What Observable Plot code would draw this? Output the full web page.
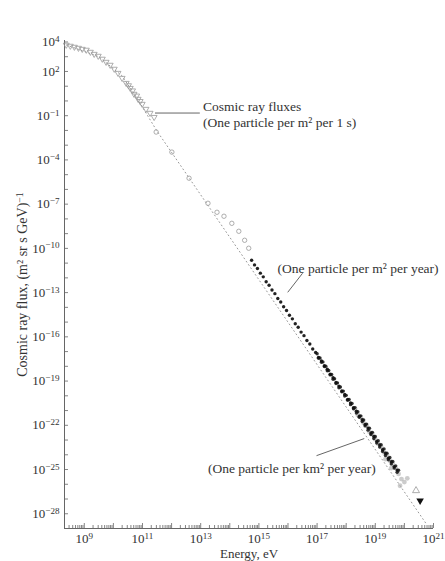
<!DOCTYPE html>
<html><head><meta charset="utf-8">
<script src="https://cdn.jsdelivr.net/npm/d3@7"></script>
<script src="https://cdn.jsdelivr.net/npm/@observablehq/plot@0.6"></script>
<style>body{margin:0;background:#fff}</style>
</head><body><div id="chart"></div>
<script>
// ---- data (log10 of energy in eV, log10 of flux) ----
const triLogE = [8.38, 8.52, 8.66, 8.80, 8.93, 9.07, 9.21, 9.34, 9.48, 9.62, 9.75, 9.89, 10.03, 10.16, 10.30, 10.44, 10.58, 10.71, 10.85, 10.99, 11.12, 11.26, 11.40, 10.52, 10.66, 10.80, 10.92];
const triLogF = [3.80, 3.73, 3.66, 3.59, 3.52, 3.46, 3.32, 3.18, 3.05, 2.85, 2.64, 2.44, 2.17, 1.89, 1.55, 1.21, 0.87, 0.47, 0.13, -0.21, -0.55, -0.82, -1.10, 1.05, 0.70, 0.35, -0.02];

const circLogE = [11.47, 12.01, 12.60, 13.25, 13.56, 13.80, 14.07, 14.31, 14.51, 14.65];
const circLogF = [-2.11, -3.47, -5.24, -6.94, -7.55, -7.82, -8.30, -8.84, -9.45, -9.99];

const darkLogE = [14.75, 14.85, 14.95, 15.05, 15.15, 15.25, 15.35, 15.45, 15.55, 15.65, 15.75, 15.85, 15.95, 16.05, 16.15, 16.25, 16.35, 16.45, 16.55, 16.65, 16.75, 16.85, 16.95, 17.05, 17.15, 17.25, 17.35, 17.45, 17.55, 17.65, 17.75, 17.85, 17.95, 18.05, 18.15, 18.25, 18.35, 18.45, 18.55, 18.65, 18.75, 18.85, 18.95, 19.05, 19.15, 19.25, 19.35, 19.45, 19.55, 19.65, 19.75];
const darkLogF = [-10.81, -11.12, -11.36, -11.68, -11.93, -12.26, -12.50, -12.82, -13.07, -13.40, -13.64, -13.96, -14.21, -14.54, -14.78, -15.11, -15.35, -15.68, -15.92, -16.25, -16.49, -16.82, -17.06, -17.39, -17.63, -17.96, -18.20, -18.53, -18.77, -19.10, -19.34, -19.67, -19.91, -20.24, -20.48, -20.81, -21.05, -21.38, -21.62, -21.95, -22.19, -22.52, -22.76, -23.09, -23.33, -23.66, -23.90, -24.23, -24.47, -24.80, -25.04];

const denseLogE = [17.00, 17.05, 17.10, 17.15, 17.20, 17.25, 17.30, 17.35, 17.40, 17.45, 17.50, 17.55, 17.60, 17.65, 17.70, 17.75, 17.80, 17.85, 17.90, 17.95, 18.00, 18.05, 18.10, 18.15, 18.20, 18.25, 18.30, 18.35, 18.40, 18.45, 18.50, 18.55, 18.60, 18.65, 18.70, 18.75, 18.80, 18.85, 18.90, 18.95, 19.00, 19.05, 19.10, 19.15, 19.20, 19.25, 19.30, 19.35, 19.40, 19.45, 19.50, 19.55, 19.60, 19.65, 19.70, 19.75, 19.80];
const denseLogF = [-17.15, -17.45, -17.44, -17.72, -17.70, -18.02, -18.00, -18.30, -18.28, -18.58, -18.55, -18.88, -18.84, -19.16, -19.12, -19.45, -19.40, -19.73, -19.68, -20.02, -19.97, -20.30, -20.25, -20.60, -20.52, -20.88, -20.80, -21.17, -21.08, -21.46, -21.36, -21.75, -21.64, -22.04, -21.92, -22.33, -22.20, -22.62, -22.48, -22.90, -22.76, -23.20, -23.04, -23.48, -23.32, -23.77, -23.60, -24.05, -23.90, -24.34, -24.18, -24.62, -24.46, -24.90, -24.75, -25.18, -25.05];

const greyLogE = [18.30, 18.40, 18.50, 18.60, 18.70, 18.80, 18.90, 19.00, 19.10, 19.20, 19.30, 19.40, 19.50, 19.60, 19.70, 19.80, 19.90, 20.00, 20.10, 19.35, 19.55, 19.85];
const greyLogF = [-20.85, -21.30, -21.45, -21.85, -22.00, -22.45, -22.60, -22.95, -23.25, -23.45, -23.85, -24.00, -24.40, -24.60, -24.90, -25.30, -25.65, -25.85, -25.60, -24.30, -24.90, -26.10];

const hiTriLogE = [20.40];
const hiTriLogF = [-26.43];
const hiFillLogE = [20.54];
const hiFillLogF = [-27.11];

const dottedLogE = [8.38, 9.50, 10.30, 10.90, 11.50, 20.75];
const dottedLogF = [3.80, 3.00, 1.70, -0.10, -2.05, -28.68];

// annotations
const noteText = ["Cosmic ray fluxes\n(One particle per m² per 1 s)", "(One particle per m² per year)", "(One particle per km² per year)"];
const noteLogE = [13.08, 15.64, 13.25];
const noteLogF = [-0.89, -11.35, -24.87];
const leadLogE1 = [11.43, 15.99, 16.98];
const leadLogF1 = [-0.82, -12.98, -24.06];
const leadLogE2 = [12.97, 16.50, 18.62];
const leadLogF2 = [-0.82, -11.69, -22.90];

const xLabelExp = [9, 11, 13, 15, 17, 19, 21];
const yLabelExp = [4, 2, -1, -4, -7, -10, -13, -16, -19, -22, -25, -28];

// ---- build ----
const P = e => 10 ** e;
const pts = (a, b) => a.map((e, i) => ({x: P(e), y: P(b[i])}));
const fmt = v => "10|" + String(Math.round(Math.log10(v))).replace("-", "\u2212");

const W = 445, H = 561, mL = 64, mR = 12, mT = 40, mB = 33;
const fw = W - mL - mR, fh = H - mT - mB;
const xDomain = [P(8.32), P(21)], yDomain = [P(-29), P(4.1)];

const xMajor = d3.range(9, 22).map(P);
const xMinor = [];
for (let k = 8; k <= 20; k++) for (let m = 2; m <= 9; m++) {
  const v = m * P(k);
  if (v >= xDomain[0] && v <= xDomain[1]) xMinor.push(v);
}
const yTicks = d3.range(-28, 5).map(P);

const notes = noteText.map((t, i) => ({t, x: P(noteLogE[i]), y: P(noteLogF[i])}));
const leads = leadLogE1.map((e, i) => ({x1: P(e), y1: P(leadLogF1[i]), x2: P(leadLogE2[i]), y2: P(leadLogF2[i])}));

const ink = "#333";
const chart = Plot.plot({
  width: W, height: H,
  marginLeft: mL, marginRight: mR, marginTop: mT, marginBottom: mB,
  style: {fontFamily: "'Liberation Serif', 'Times New Roman', serif", fontSize: "13px", color: ink, background: "#fff"},
  x: {type: "log", domain: xDomain},
  y: {type: "log", domain: yDomain},
  marks: [
    Plot.ruleX(xMinor, {x: d => d, insetTop: fh - 3, stroke: "#666", strokeWidth: 0.8}),
    Plot.ruleX(xMajor, {x: d => d, insetTop: fh - 5, stroke: "#666", strokeWidth: 0.8}),
    Plot.ruleY(yTicks, {y: d => d, insetRight: fw - 4, stroke: "#666", strokeWidth: 0.8}),
    Plot.ruleX([xDomain[0]], {stroke: "#666", strokeWidth: 1}),
    Plot.ruleY([yDomain[0]], {stroke: "#666", strokeWidth: 1}),
    Plot.axisX(xLabelExp.map(P), {tickSize: 0, tickPadding: 5, tickFormat: fmt, fill: ink, fontSize: 13}),
    Plot.axisY(yLabelExp.map(P), {tickSize: 0, tickPadding: 5, tickFormat: fmt, fill: ink, fontSize: 13}),
    Plot.text(["Energy, eV"], {frameAnchor: "bottom", dy: 25, lineAnchor: "middle", fill: ink, fontSize: 13}),
    Plot.text(["Cosmic ray flux, (m² sr s GeV)|\u22121"], {frameAnchor: "left", dx: -42, rotate: -90, textAnchor: "middle", lineAnchor: "middle", fill: ink, fontSize: 14}),
    Plot.line(pts(dottedLogE, dottedLogF), {x: "x", y: "y", stroke: "#999", strokeWidth: 1, strokeDasharray: "1 3"}),
    Plot.dot(pts(triLogE, triLogF), {x: "x", y: "y", symbol: "triangle", r: 2.2, stroke: "#999", strokeWidth: 0.8, fill: "none", rotate: 180}),
    Plot.dot(pts(circLogE, circLogF), {x: "x", y: "y", r: 2.2, stroke: "#999", strokeWidth: 0.8, fill: "none"}),
    Plot.dot(pts(greyLogE, greyLogF), {x: "x", y: "y", r: 2.4, fill: "#aaa", fillOpacity: 0.6, stroke: "none"}),
    Plot.dot(pts(darkLogE, darkLogF), {x: "x", y: "y", r: 1.7, fill: "#222", stroke: "none"}),
    Plot.dot(pts(denseLogE, denseLogF), {x: "x", y: "y", r: 1.7, fill: "#111", fillOpacity: 0.85, stroke: "none"}),
    Plot.dot(pts(hiTriLogE, hiTriLogF), {x: "x", y: "y", symbol: "triangle", r: 2.6, stroke: "#999", strokeWidth: 0.8, fill: "none"}),
    Plot.dot(pts(hiFillLogE, hiFillLogF), {x: "x", y: "y", symbol: "triangle", r: 2.8, fill: "#111", rotate: 180}),
    Plot.link(leads, {x1: "x1", y1: "y1", x2: "x2", y2: "y2", stroke: "#666", strokeWidth: 1}),
    Plot.text(notes, {x: "x", y: "y", text: "t", textAnchor: "start", lineAnchor: "middle", lineHeight: 1.18, fontSize: 13.5, fill: ink})
  ]
});
// turn "base|exp" into a real superscript
chart.querySelectorAll("text").forEach(t => {
  const nodes = t.querySelectorAll("tspan").length ? [...t.querySelectorAll("tspan")] : [t];
  nodes.forEach(n => {
    if (n.childElementCount || !n.textContent.includes("|")) return;
    const [base, exp] = n.textContent.split("|");
    n.textContent = base;
    const s = document.createElementNS("http://www.w3.org/2000/svg", "tspan");
    s.setAttribute("dy", "-0.45em");
    s.setAttribute("font-size", "0.7em");
    s.textContent = exp;
    n.appendChild(s);
  });
});
document.getElementById("chart").appendChild(chart);
</script>
</body></html>
